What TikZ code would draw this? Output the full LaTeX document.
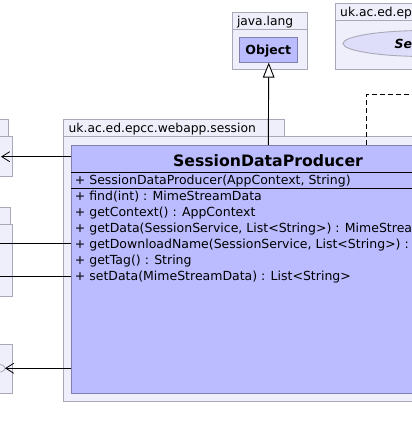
\documentclass[tikz,border=0pt]{standalone}
\usepackage{fontspec}
\setmainfont{DejaVu Sans}
\usetikzlibrary{arrows.meta}
\definecolor{pkgfill}{RGB}{239,239,251}
\definecolor{pkgdraw}{RGB}{168,168,184}
\definecolor{clsfill}{RGB}{187,187,255}
\definecolor{clsdraw}{RGB}{128,128,176}
\definecolor{ellfill}{RGB}{222,222,250}
\tikzset{
  pkg/.style={draw=pkgdraw, fill=pkgfill, line width=0.9pt},
  cls/.style={draw=clsdraw, fill=clsfill, line width=0.9pt},
  member/.style={anchor=base west, inner sep=0pt, font=\fontsize{12.5}{12.5}\selectfont},
  pkglabel/.style={anchor=base west, inner sep=0pt, font=\fontsize{12.3}{12.3}\selectfont},
  conn/.style={draw=black, line width=0.9pt},
  barb/.style={-{Straight Barb[length=8pt,width=10pt,line width=0.8pt]}},
  inherit/.style={-{Triangle[fill=white,length=15pt,width=11.6pt,line width=0.9pt]}},
  dep/.style={dash pattern=on 5pt off 3pt}
}
\begin{document}
\begin{tikzpicture}[x=1pt,y=-1pt]
\useasboundingbox (0,0) rectangle (412,439);
\clip (0,0) rectangle (412,439);

% java.lang package
\node[pkg, anchor=north west, minimum width=75.6pt, minimum height=57.6pt, inner sep=0pt] (jl) at (231.7,11.7) {};
\draw[pkgdraw, line width=0.9pt] (231.7,29.3) -- (307.3,29.3);
\node[pkglabel] (jllabel) at (236.8,25.5) {java.lang};
\node[cls, anchor=north west, minimum width=58pt, minimum height=24.4pt, inner sep=0pt] (obj) at (239.3,37.3) {};
\node[anchor=base, inner sep=0pt, font=\bfseries\fontsize{12.5}{12.5}\selectfont] (objlabel) at (268.3,54.3) {Object};

% top-right package
\node[pkg, anchor=north west, minimum width=120pt, minimum height=66.6pt, inner sep=0pt] (tr) at (335.3,2.7) {};
\draw[pkgdraw, line width=0.9pt] (335.3,20.7) -- (460,20.7);
\node[pkglabel] (trlabel) at (340,16.5) {uk.ac.ed.ep};
\draw[pkgdraw, fill=ellfill, line width=0.9pt] (425,43.5) ellipse [x radius=82pt, y radius=13pt];
\node[anchor=base west, inner sep=0pt, font=\bfseries\itshape\fontsize{12.5}{12.5}\selectfont] (se) at (394.5,48.3) {Se};

% session package
\node[pkg, anchor=north west, minimum width=221pt, minimum height=16.7pt, inner sep=0pt] (stab) at (63.3,119.3) {};
\node[pkg, anchor=north west, minimum width=420pt, minimum height=265pt, inner sep=0pt] (sbody) at (63.3,136) {};
\node[pkglabel] (slabel) at (68.5,132) {uk.ac.ed.epcc.webapp.session};

% class
\node[cls, anchor=north west, minimum width=395pt, minimum height=248.3pt, inner sep=0pt] (cls) at (71,145) {};
\draw[black, line width=0.9pt] (71,172) -- (470,172);
\draw[black, line width=0.9pt] (71,188.7) -- (470,188.7);
\node[anchor=base, inner sep=0pt, font=\bfseries\fontsize{15.7}{15.7}\selectfont] (title) at (268,166) {SessionDataProducer};
\node[member] (m0) at (74.7,184.7) {+ SessionDataProducer(AppContext, String)};
\node[member] (m1) at (74.7,200.7) {+ find(int) : MimeStreamData};
\node[member] (m2) at (74.7,216.6) {+ getContext() : AppContext};
\node[member] (m3) at (74.7,232.5) {+ getData(SessionService, List<String>) : MimeStreamData};
\node[member] (m4) at (74.7,248.4) {+ getDownloadName(SessionService, List<String>) : String};
\node[member] (m5) at (74.7,264.3) {+ getTag() : String};
\node[member] (m6) at (74.7,280.2) {+ setData(MimeStreamData) : List<String>};

% left boxes
\node[pkg, anchor=north east, minimum width=60pt, minimum height=16.7pt, inner sep=0pt] (atab) at (9.3,119.3) {};
\node[pkg, anchor=north east, minimum width=60pt, minimum height=40pt, inner sep=0pt] (abody) at (13.3,136) {};
\node[pkg, anchor=north east, minimum width=60pt, minimum height=17.6pt, inner sep=0pt] (btab) at (11.3,206.7) {};
\node[pkg, anchor=north east, minimum width=60pt, minimum height=71.7pt, inner sep=0pt] (bbody) at (13.3,224.3) {};
\node[pkg, anchor=north east, minimum width=60pt, minimum height=48.4pt, inner sep=0pt] (cbody) at (13.3,344.3) {};
\draw[pkgdraw, fill=pkgfill, line width=0.8pt] (-2,368.3) ellipse [x radius=7pt, y radius=4pt];

% connectors
\coordinate (tA) at (1,156.7);
\coordinate (tB1) at (-5,243.7);
\coordinate (tB2) at (-5,276.3);
\coordinate (tC) at (5,368.3);
\draw[conn, barb] (tA -| cls.west) -- (tA);
\draw[conn] (tB1 -| cls.west) -- (tB1);
\draw[conn] (tB2 -| cls.west) -- (tB2);
\draw[conn, barb] (tC -| cls.west) -- (tC);
\draw[conn, inherit] (cls.north -| objlabel) -- (obj.south);
\coordinate (dcorner) at (366.7,94.3);
\coordinate (dend) at (430,94.3);
\draw[conn, dep] (dcorner |- cls.north) -- (dcorner) -- (dend);
\end{tikzpicture}
\end{document}
